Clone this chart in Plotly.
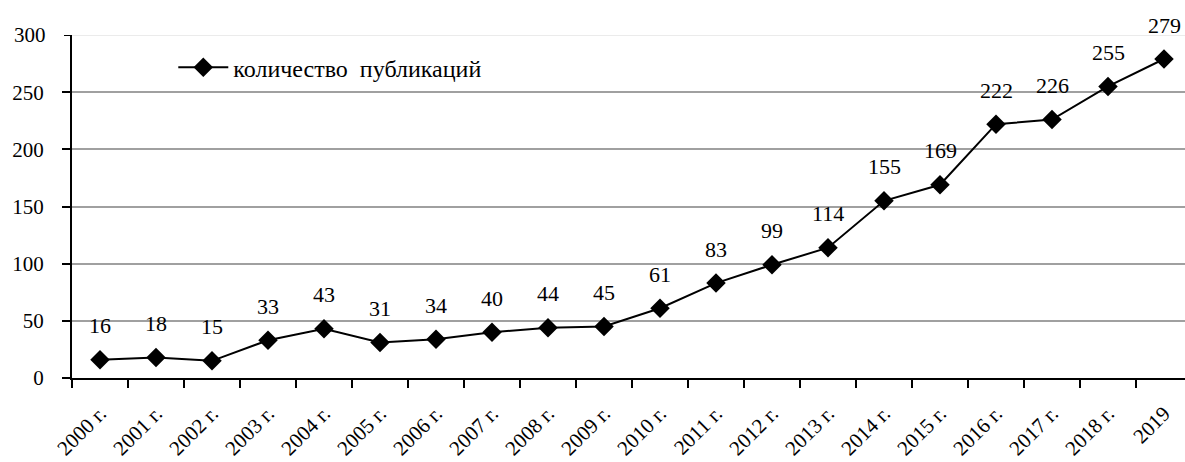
import plotly.graph_objects as go

categories = ["2000 г.", "2001 г.", "2002 г.", "2003 г.", "2004 г.", "2005 г.", "2006 г.",
              "2007 г.", "2008 г.", "2009 г.", "2010 г.", "2011 г.", "2012 г.", "2013 г.",
              "2014 г.", "2015 г.", "2016 г.", "2017 г.", "2018 г.", "2019"]
values = [16, 18, 15, 33, 43, 31, 34, 40, 44, 45, 61, 83, 99, 114, 155, 169, 222, 226, 255, 279]
y_ticks = [0, 50, 100, 150, 200, 250, 300]
series_name = "количество  публикаций"

FONT = "Liberation Serif"
FS_TICK = 21
FS_LABEL = 22
FS_LEGEND = 24

fig = go.Figure()
fig.add_trace(go.Scatter(
    x=categories, y=values, mode="lines+markers", name=series_name,
    line=dict(color="black", width=2),
    marker=dict(symbol="diamond", size=15, color="black"),
))

for i, v in enumerate(values):
    fig.add_annotation(x=i, y=v, xref="x", yref="y", text=str(v), showarrow=False,
                       yanchor="middle", yshift=34,
                       font=dict(family=FONT, size=FS_LABEL, color="black"))

# faint top gridline at 300 with its tick and label
fig.add_shape(type="line", xref="paper", yref="y", x0=0, x1=1, y0=y_ticks[-1], y1=y_ticks[-1],
              line=dict(color="#e4e4e4", width=1.5), layer="below")
fig.add_shape(type="line", xref="paper", yref="y", x0=-0.0072, x1=0, y0=y_ticks[-1], y1=y_ticks[-1],
              line=dict(color="black", width=2))
fig.add_annotation(x=0, y=y_ticks[-1], xref="paper", yref="y", xanchor="right", xshift=-24,
                   text=str(y_ticks[-1]), showarrow=False,
                   font=dict(family=FONT, size=FS_TICK, color="black"))

fig.update_layout(
    width=1185, height=462,
    margin=dict(l=72, r=0, t=35, b=84),
    paper_bgcolor="white", plot_bgcolor="white",
    font=dict(family=FONT, size=FS_TICK, color="black"),
    showlegend=True,
    legend=dict(x=0.091, y=0.905, xanchor="left", yanchor="middle",
                bgcolor="rgba(0,0,0,0)", font=dict(family=FONT, size=FS_LEGEND),
                itemwidth=50),
    xaxis=dict(type="category", showgrid=False, showline=True, linecolor="black",
               linewidth=2, ticks="outside", tickson="boundaries", ticklen=8,
               tickcolor="black", tickwidth=2, tickangle=-45, ticklabelstandoff=13,
               tickfont=dict(family=FONT, size=FS_TICK), range=[-0.5, 19.375]),
    yaxis=dict(range=[0, 300], tickvals=y_ticks[:-1], showgrid=True,
               gridcolor="#a0a0a0", gridwidth=1.5, showline=True, linecolor="black",
               linewidth=2, ticks="outside", ticklen=8, tickcolor="black", tickwidth=2,
               ticklabelstandoff=14,
               tickfont=dict(family=FONT, size=FS_TICK), zeroline=False),
)

fig.write_html("out.html", post_script="document.body.style.margin='0';",
               config={"displayModeBar": False})
